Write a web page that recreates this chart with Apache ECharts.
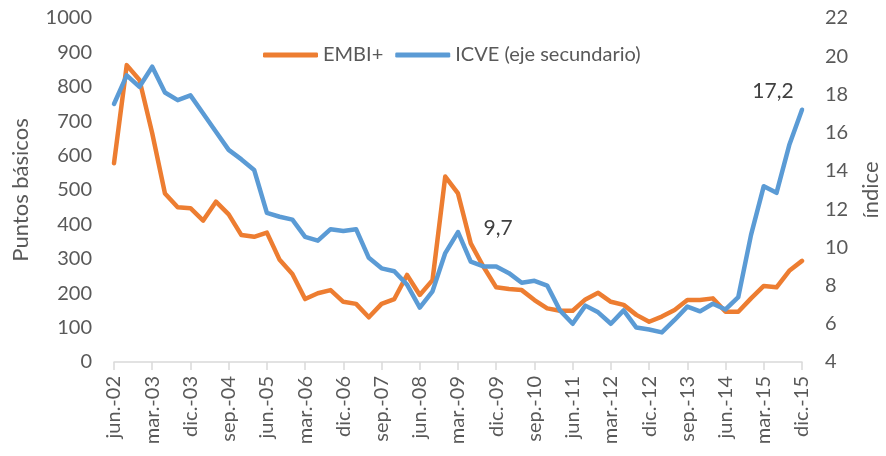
<!DOCTYPE html>
<html>
<head>
<meta charset="utf-8">
<script src="https://cdn.jsdelivr.net/npm/echarts@6/dist/echarts.min.js"></script>
<style>html,body{margin:0;padding:0;background:#fff;}#c{width:886px;height:456px;}</style>
</head>
<body>
<div id="c"></div>
<script>
const categories = [
  'jun.-02','sep.-02','dic.-02',
  'mar.-03','jun.-03','sep.-03','dic.-03',
  'mar.-04','jun.-04','sep.-04','dic.-04',
  'mar.-05','jun.-05','sep.-05','dic.-05',
  'mar.-06','jun.-06','sep.-06','dic.-06',
  'mar.-07','jun.-07','sep.-07','dic.-07',
  'mar.-08','jun.-08','sep.-08','dic.-08',
  'mar.-09','jun.-09','sep.-09','dic.-09',
  'mar.-10','jun.-10','sep.-10','dic.-10',
  'mar.-11','jun.-11','sep.-11','dic.-11',
  'mar.-12','jun.-12','sep.-12','dic.-12',
  'mar.-13','jun.-13','sep.-13','dic.-13',
  'mar.-14','jun.-14','sep.-14','dic.-14',
  'mar.-15','jun.-15','sep.-15','dic.-15'
];
const embi = [
  578, 863, 820,
  665, 490, 450, 447,
  411, 466, 429, 369,
  364, 376, 297, 256,
  183, 200, 209, 175,
  169, 130, 169, 183,
  253, 195, 238, 539,
  490, 345, 277, 217,
  212, 209, 180, 156,
  149, 149, 182, 201,
  175, 166, 137, 117,
  132, 151, 180, 180,
  185, 146, 146, 185,
  221, 217, 265, 294
];
const icve = [
  17.5, 19.0, 18.4,
  19.45, 18.1, 17.7, 17.95,
  17.0, 16.05, 15.1, 14.6,
  14.05, 11.8, 11.6, 11.45,
  10.55, 10.35, 10.95, 10.85,
  10.95, 9.45, 8.9, 8.75,
  8.05, 6.85, 7.7, 9.7,
  10.8, 9.25, 9.0, 9.0,
  8.65, 8.15, 8.25, 8.0,
  6.7, 6.0, 6.95, 6.6,
  6.0, 6.7, 5.8, 5.7,
  5.55, 6.2, 6.9, 6.65,
  7.05, 6.75, 7.4, 10.65,
  13.2, 12.85, 15.35, 17.2
];
const leftTicks = {min: 0, max: 1000, interval: 100};
const rightTicks = {min: 4, max: 22, interval: 2};
const seriesNames = ['EMBI+', 'ICVE (eje secundario)'];
const labelledPoints = {'mar.-09': '9,7', 'dic.-15': '17,2'};

const FONT = 'Lato';
const TXT = '#595959';
const ORANGE = '#ED7D31';
const BLUE = '#5B9BD5';

const labelShift = {'mar.-09': {dx: 20, dy: -4}, 'dic.-15': {dx: -29, dy: -2}};

const icveData = icve.map((v, i) => {
  const cat = categories[i];
  if (cat === 'mar.-09') {
    return {value: v, label: {show: true, formatter: labelledPoints[cat], position: 'right'}};
  }
  if (cat === 'dic.-15') {
    return {value: v, label: {show: true, formatter: labelledPoints[cat], position: 'top'}};
  }
  return v;
});

const chart = echarts.init(document.getElementById('c'), null, {renderer: 'canvas'});
chart.setOption({
  animation: false,
  backgroundColor: '#fff',
  grid: {left: 114, right: 84, top: 18, bottom: 94, containLabel: false, outerBoundsMode: 'none'},
  legend: {
    top: 40, left: 258,
    icon: 'roundRect',
    itemWidth: 55, itemHeight: 5, itemGap: 12,
    textStyle: {fontFamily: FONT, fontSize: 20, color: TXT},
    data: seriesNames
  },
  xAxis: {
    type: 'category',
    data: categories,
    boundaryGap: false,
    axisLine: {lineStyle: {color: '#d9d9d9', width: 1.5}},
    axisTick: {show: true, interval: 2, length: 8, lineStyle: {color: '#d9d9d9', width: 1.5}},
    axisLabel: {interval: 2, rotate: 90, margin: 14, fontFamily: FONT, fontSize: 20, color: TXT},
    splitLine: {show: false}
  },
  yAxis: [
    {
      type: 'value', min: leftTicks.min, max: leftTicks.max, interval: leftTicks.interval,
      name: 'Puntos básicos', nameLocation: 'middle', nameGap: 82, nameRotate: 90,
      nameTextStyle: {fontFamily: FONT, fontSize: 22, color: TXT},
      axisLine: {show: false}, axisTick: {show: false}, splitLine: {show: false},
      axisLabel: {margin: 22, fontFamily: FONT, fontSize: 20, color: TXT, formatter: v => String(v)}
    },
    {
      type: 'value', min: rightTicks.min, max: rightTicks.max, interval: rightTicks.interval,
      name: 'índice', nameLocation: 'middle', nameGap: 58, nameRotate: 90,
      nameTextStyle: {fontFamily: FONT, fontSize: 22, color: TXT},
      axisLine: {show: false}, axisTick: {show: false}, splitLine: {show: false},
      axisLabel: {margin: 23, fontFamily: FONT, fontSize: 20, color: TXT, formatter: v => String(v)}
    }
  ],
  series: [
    {
      name: seriesNames[0], type: 'line', yAxisIndex: 0, data: embi,
      symbol: 'none', color: ORANGE,
      lineStyle: {width: 4.5, color: ORANGE, cap: 'round', join: 'round'}
    },
    {
      name: seriesNames[1], type: 'line', yAxisIndex: 1, data: icveData,
      symbol: 'circle', symbolSize: 1, showSymbol: true, showAllSymbol: true,
      color: BLUE, itemStyle: {color: BLUE},
      lineStyle: {width: 4.5, color: BLUE, cap: 'round', join: 'round'},
      label: {show: false, fontFamily: FONT, fontSize: 21, color: '#404040'},
      labelLayout: function (params) {
        const s = labelShift[categories[params.dataIndex]];
        return s ? {dx: s.dx, dy: s.dy, hideOverlap: false} : {hideOverlap: false};
      }
    }
  ]
});
</script>
</body>
</html>
